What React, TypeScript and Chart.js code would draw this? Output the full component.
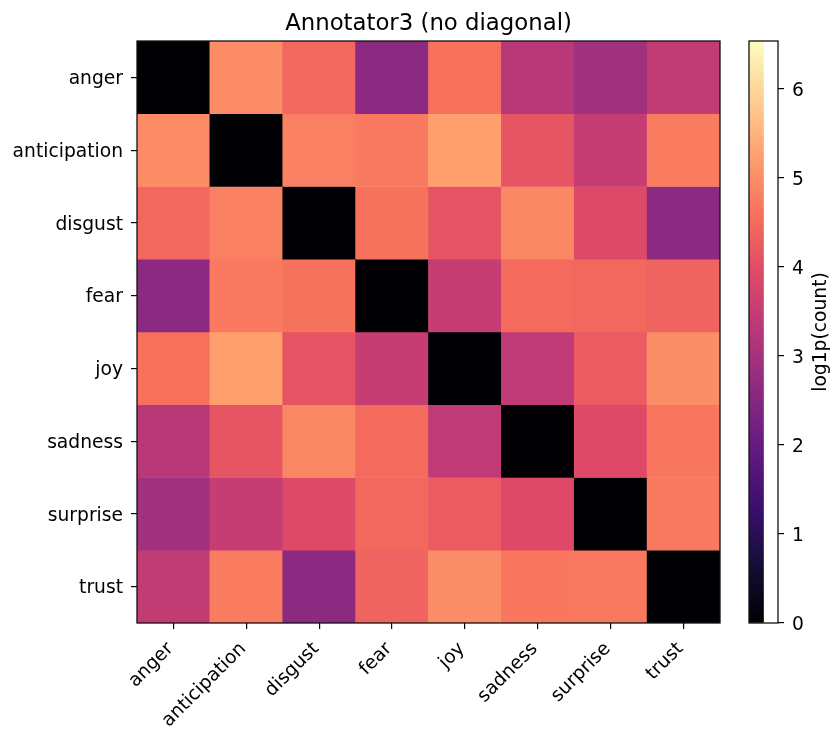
import React, { useEffect, useRef } from "react";
import { Chart, registerables } from "chart.js";

Chart.register(...registerables);

const categories = ["anger", "anticipation", "disgust", "fear", "joy", "sadness", "surprise", "trust"];

// log1p(count) per row (row emotion vs column emotion); diagonal removed (0)
const angerRow = [0, 4.97, 4.45, 2.62, 4.58, 3.3, 2.94, 3.45];
const anticipationRow = [4.97, 0, 4.8, 4.72, 5.23, 4.12, 3.5, 4.75];
const disgustRow = [4.45, 4.8, 0, 4.6, 4.1, 4.9, 3.92, 2.62];
const fearRow = [2.62, 4.72, 4.6, 0, 3.5, 4.5, 4.45, 4.38];
const joyRow = [4.58, 5.23, 4.1, 3.5, 0, 3.42, 4.25, 5.0];
const sadnessRow = [3.3, 4.12, 4.9, 4.5, 3.42, 0, 3.92, 4.67];
const surpriseRow = [2.94, 3.5, 3.92, 4.45, 4.25, 3.92, 0, 4.7];
const trustRow = [3.45, 4.75, 2.62, 4.38, 5.0, 4.67, 4.7, 0];

const matrix = [angerRow, anticipationRow, disgustRow, fearRow, joyRow, sadnessRow, surpriseRow, trustRow];

const colorbarTicks = [0, 1, 2, 3, 4, 5, 6];
const VMIN = 0;
const VMAX = 6.54;
const TITLE = "Annotator3 (no diagonal)";
const CBAR_LABEL = "log1p(count)";

const MAGMA = [
  "#000004", "#140E36", "#3B0F70", "#641A80", "#8C2981", "#B73779",
  "#DE4968", "#F7705C", "#FE9F6D", "#FECF92", "#FCFDBF",
];

const FONT = "'DejaVu Sans', 'Liberation Sans', sans-serif";
const TICK_SIZE = 18.7;
const TITLE_SIZE = 22.8;

function hexToRgb(h: string): number[] {
  const v = parseInt(h.slice(1), 16);
  return [(v >> 16) & 255, (v >> 8) & 255, v & 255];
}

function magma(t: number): string {
  const c = Math.max(0, Math.min(1, t));
  const pos = c * (MAGMA.length - 1);
  const i = Math.min(MAGMA.length - 2, Math.floor(pos));
  const f = pos - i;
  const a = hexToRgb(MAGMA[i]);
  const b = hexToRgb(MAGMA[i + 1]);
  const r = a.map((x, k) => Math.round(x + (b[k] - x) * f));
  return `rgb(${r[0]},${r[1]},${r[2]})`;
}

function colorFor(v: number): string {
  return magma((v - VMIN) / (VMAX - VMIN));
}

const framePlugin = {
  id: "frame",
  afterDatasetsDraw(chart: any) {
    const { ctx, chartArea } = chart;
    ctx.save();
    ctx.strokeStyle = "#111";
    ctx.lineWidth = 1.3;
    ctx.strokeRect(chartArea.left, chartArea.top, chartArea.right - chartArea.left, chartArea.bottom - chartArea.top);
    ctx.restore();
  },
};

const titlePlugin = {
  id: "titleText",
  afterDraw(chart: any) {
    const { ctx, chartArea } = chart;
    ctx.save();
    ctx.fillStyle = "#000";
    ctx.font = `${TITLE_SIZE}px ${FONT}`;
    ctx.textAlign = "center";
    ctx.textBaseline = "alphabetic";
    ctx.fillText(TITLE, (chartArea.left + chartArea.right) / 2, 29.5);
    ctx.restore();
  },
};

const cbarLabelPlugin = {
  id: "cbarLabel",
  afterDraw(chart: any) {
    const { ctx, chartArea } = chart;
    ctx.save();
    ctx.fillStyle = "#000";
    ctx.font = `${TICK_SIZE}px ${FONT}`;
    ctx.textAlign = "center";
    ctx.textBaseline = "middle";
    ctx.translate(121, (chartArea.top + chartArea.bottom) / 2);
    ctx.rotate(-Math.PI / 2);
    ctx.fillText(CBAR_LABEL, 0, 0);
    ctx.restore();
  },
};

export default function App() {
  const mainRef = useRef<HTMLCanvasElement | null>(null);
  const cbarRef = useRef<HTMLCanvasElement | null>(null);

  useEffect(() => {
    if (!mainRef.current || !cbarRef.current) return;

    const datasets = matrix.map((row, i) => ({
      label: categories[i],
      data: row.map(() => 1),
      backgroundColor: row.map((v) => colorFor(v)),
      borderWidth: 0,
      barPercentage: 1,
      categoryPercentage: 1,
    }));

    const main = new Chart(mainRef.current, {
      type: "bar",
      data: { labels: categories, datasets },
      options: {
        responsive: false,
        animation: false,
        events: [],
        layout: { padding: { left: 0, top: 41, right: 25, bottom: 0 } },
        plugins: { legend: { display: false }, tooltip: { enabled: false }, title: { display: false } },
        scales: {
          x: {
            type: "category",
            stacked: true,
            offset: true,
            grid: { display: true, drawOnChartArea: false, offset: false, tickLength: 6, color: "#000", lineWidth: 1.2 },
            border: { display: false },
            ticks: {
              autoSkip: false,
              maxRotation: 45,
              minRotation: 45,
              padding: 9,
              labelOffset: -3,
              color: "#000",
              font: { family: FONT, size: TICK_SIZE },
            },
            afterFit: (s: any) => { s.height = 110; },
          },
          y: {
            type: "linear",
            stacked: true,
            reverse: true,
            min: 0,
            max: categories.length,
            grid: { display: true, drawOnChartArea: false, tickLength: 6, color: "#000", lineWidth: 1.2 },
            border: { display: false },
            afterBuildTicks: (s: any) => {
              s.ticks = categories.map((_, i) => ({ value: i + 0.5 }));
            },
            ticks: {
              autoSkip: false,
              padding: 8,
              labelOffset: 2,
              color: "#000",
              font: { family: FONT, size: TICK_SIZE },
              callback: (v: any) => categories[Math.round(Number(v) - 0.5)] ?? "",
            },
            afterFit: (s: any) => { s.width = 137; },
          },
        },
      },
      plugins: [framePlugin, titlePlugin],
    } as any);

    const cbar = new Chart(cbarRef.current, {
      type: "bar",
      data: {
        labels: [""],
        datasets: [
          {
            data: [VMAX],
            borderWidth: 0,
            barPercentage: 1,
            categoryPercentage: 1,
            backgroundColor: (c: any) => {
              const area = c.chart.chartArea;
              if (!area) return "#000";
              const g = c.chart.ctx.createLinearGradient(0, area.bottom, 0, area.top);
              MAGMA.forEach((col, k) => g.addColorStop(k / (MAGMA.length - 1), col));
              return g;
            },
          },
        ],
      },
      options: {
        responsive: false,
        animation: false,
        events: [],
        layout: { padding: { left: 49, top: 41, right: 0, bottom: 110 } },
        plugins: { legend: { display: false }, tooltip: { enabled: false } },
        scales: {
          x: { display: false, offset: false },
          y: {
            type: "linear",
            position: "right",
            min: VMIN,
            max: VMAX,
            grid: { display: true, drawOnChartArea: false, tickLength: 6, color: "#000", lineWidth: 1.2 },
            border: { display: false },
            afterBuildTicks: (s: any) => {
              s.ticks = colorbarTicks.map((v) => ({ value: v }));
            },
            ticks: {
              padding: 8,
              labelOffset: 2,
              color: "#000",
              font: { family: FONT, size: TICK_SIZE },
              callback: (v: any) => String(v),
            },
            afterFit: (s: any) => { s.width = 55; },
          },
        },
      },
      plugins: [framePlugin, cbarLabelPlugin],
    } as any);

    return () => {
      main.destroy();
      cbar.destroy();
    };
  }, []);

  return (
    <div style={{ position: "absolute", left: 0, top: 0, width: 833, height: 733, background: "#fff" }}>
      <canvas ref={mainRef} width={745} height={733} style={{ position: "absolute", left: 0, top: 0, display: "block" }} />
      <canvas ref={cbarRef} width={133} height={733} style={{ position: "absolute", left: 700, top: 0, display: "block" }} />
    </div>
  );
}
